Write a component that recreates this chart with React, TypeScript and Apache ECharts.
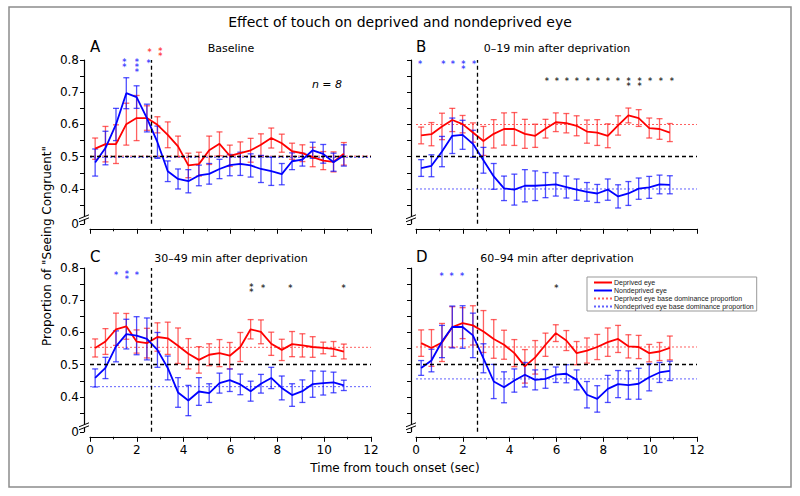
import React, { useEffect, useRef } from "react";
import * as echarts from "echarts";

// ---------- data ----------
const times = [0.22, 0.66, 1.11, 1.55, 1.99, 2.43, 2.88, 3.32, 3.76, 4.2, 4.65, 5.09, 5.53, 5.97, 6.42, 6.86, 7.3, 7.74, 8.19, 8.63, 9.07, 9.51, 9.96, 10.4, 10.84];

const deprivedA = [0.525, 0.539, 0.539, 0.601, 0.62, 0.62, 0.599, 0.568, 0.532, 0.473, 0.477, 0.52, 0.54, 0.503, 0.511, 0.52, 0.537, 0.558, 0.542, 0.517, 0.511, 0.499, 0.488, 0.484, 0.509];
const deprivedErrA = [0.033, 0.055, 0.06, 0.065, 0.07, 0.038, 0.025, 0.04, 0.032, 0.038, 0.037, 0.044, 0.037, 0.033, 0.035, 0.037, 0.034, 0.031, 0.028, 0.025, 0.026, 0.03, 0.028, 0.031, 0.035];
const nondeprivedA = [0.482, 0.527, 0.6, 0.697, 0.685, 0.62, 0.545, 0.455, 0.431, 0.424, 0.442, 0.447, 0.462, 0.474, 0.478, 0.473, 0.462, 0.455, 0.446, 0.486, 0.491, 0.52, 0.509, 0.483, 0.504];
const nondeprivedErrA = [0.042, 0.052, 0.05, 0.048, 0.035, 0.043, 0.05, 0.032, 0.031, 0.036, 0.032, 0.032, 0.03, 0.033, 0.036, 0.036, 0.042, 0.044, 0.033, 0.026, 0.02, 0.025, 0.029, 0.028, 0.033];

const deprivedB = [0.566, 0.57, 0.594, 0.614, 0.601, 0.575, 0.549, 0.571, 0.586, 0.586, 0.571, 0.565, 0.587, 0.607, 0.604, 0.596, 0.578, 0.575, 0.565, 0.597, 0.628, 0.62, 0.589, 0.586, 0.575];
const deprivedErrB = [0.026, 0.036, 0.041, 0.036, 0.027, 0.03, 0.045, 0.044, 0.05, 0.051, 0.045, 0.036, 0.029, 0.029, 0.03, 0.031, 0.036, 0.04, 0.037, 0.03, 0.023, 0.026, 0.031, 0.032, 0.028];
const nondeprivedB = [0.465, 0.472, 0.516, 0.565, 0.568, 0.54, 0.489, 0.439, 0.402, 0.398, 0.41, 0.41, 0.412, 0.414, 0.406, 0.398, 0.391, 0.386, 0.398, 0.377, 0.386, 0.401, 0.405, 0.414, 0.413];
const nondeprivedErrB = [0.026, 0.034, 0.047, 0.055, 0.045, 0.042, 0.04, 0.04, 0.038, 0.048, 0.05, 0.046, 0.039, 0.036, 0.034, 0.033, 0.029, 0.028, 0.033, 0.036, 0.037, 0.033, 0.034, 0.029, 0.028];

const deprivedC = [0.552, 0.572, 0.61, 0.619, 0.572, 0.567, 0.586, 0.582, 0.559, 0.534, 0.515, 0.531, 0.536, 0.528, 0.555, 0.61, 0.602, 0.565, 0.546, 0.564, 0.56, 0.555, 0.552, 0.549, 0.541];
const deprivedErrC = [0.028, 0.04, 0.05, 0.04, 0.036, 0.046, 0.044, 0.05, 0.055, 0.047, 0.041, 0.034, 0.042, 0.041, 0.045, 0.03, 0.037, 0.036, 0.033, 0.039, 0.036, 0.032, 0.018, 0.023, 0.023];
const nondeprivedC = [0.459, 0.49, 0.557, 0.595, 0.59, 0.58, 0.546, 0.49, 0.414, 0.389, 0.417, 0.412, 0.443, 0.452, 0.439, 0.418, 0.441, 0.459, 0.428, 0.406, 0.418, 0.44, 0.443, 0.445, 0.436];
const nondeprivedErrC = [0.028, 0.033, 0.048, 0.046, 0.059, 0.065, 0.054, 0.037, 0.046, 0.047, 0.043, 0.029, 0.031, 0.035, 0.032, 0.031, 0.029, 0.033, 0.037, 0.035, 0.035, 0.041, 0.037, 0.032, 0.016];

const deprivedD = [0.567, 0.552, 0.569, 0.617, 0.629, 0.622, 0.603, 0.58, 0.562, 0.536, 0.495, 0.523, 0.562, 0.598, 0.575, 0.536, 0.544, 0.555, 0.57, 0.58, 0.557, 0.555, 0.536, 0.541, 0.552];
const deprivedErrD = [0.041, 0.057, 0.059, 0.063, 0.048, 0.061, 0.065, 0.06, 0.045, 0.042, 0.052, 0.052, 0.036, 0.026, 0.031, 0.036, 0.039, 0.039, 0.044, 0.042, 0.036, 0.036, 0.027, 0.028, 0.037];
const nondeprivedD = [0.49, 0.513, 0.572, 0.617, 0.617, 0.591, 0.52, 0.448, 0.43, 0.451, 0.469, 0.453, 0.456, 0.469, 0.472, 0.453, 0.407, 0.394, 0.425, 0.44, 0.437, 0.441, 0.461, 0.476, 0.481];
const nondeprivedErrD = [0.023, 0.035, 0.05, 0.065, 0.066, 0.069, 0.045, 0.053, 0.048, 0.036, 0.038, 0.031, 0.029, 0.024, 0.028, 0.031, 0.041, 0.041, 0.042, 0.042, 0.044, 0.048, 0.042, 0.031, 0.03];

const deprivedBase = [0.502, 0.6, 0.554, 0.555];
const nondeprivedBase = [0.498, 0.4, 0.432, 0.456];

const touchEnd = 2.63;
const chance = 0.5;

// significance marks: [time, y of top star, number of stacked stars]
const starsBlueA = [[1.47, 0.797, 2], [2.0, 0.797, 3], [2.5, 0.795, 1]];
const starsRedA = [[2.54, 0.829, 1], [3.0, 0.833, 2]];
const starsBlackA: number[][] = [];
const starsBlueB = [[0.17, 0.793, 1], [1.17, 0.793, 1], [1.57, 0.793, 1], [2.02, 0.793, 2], [2.48, 0.793, 1]];
const starsBlackB = [[5.59, 0.741, 1], [6.01, 0.741, 1], [6.44, 0.741, 1], [6.87, 0.741, 1], [7.34, 0.741, 1], [7.77, 0.741, 1], [8.19, 0.741, 1], [8.62, 0.741, 1], [9.08, 0.741, 2], [9.55, 0.741, 2], [10.0, 0.741, 1], [10.46, 0.741, 1], [10.93, 0.741, 1]];
const starsBlueC = [[1.11, 0.784, 1], [1.57, 0.787, 2], [2.0, 0.784, 1]];
const starsBlackC = [[6.89, 0.745, 2], [7.39, 0.742, 1], [8.56, 0.742, 1], [10.83, 0.742, 1]];
const starsBlueD = [[1.09, 0.781, 1], [1.52, 0.781, 1], [1.97, 0.781, 1]];
const starsBlackD = [[5.99, 0.742, 1]];

const panelLetters = ["A", "B", "C", "D"];
const panelTitles = ["Baseline", "0–19 min after deprivation", "30–49 min after deprivation", "60–94 min after deprivation"];
const yLabelValues = [0.4, 0.5, 0.6, 0.7, 0.8];
const yMinorValues = [0.35, 0.45, 0.55, 0.65, 0.75];

const NAME_DEP = "Deprived eye";
const NAME_NON = "Nondeprived eye";
const NAME_DEP_BASE = "Deprived eye base dominance proportion";
const NAME_NON_BASE = "Nondeprived eye base dominance proportion";

// ---------- layout / style ----------
const FONT = '"DejaVu Sans", sans-serif';
const Y_MIN = 0.292;
const Y_MAX = 0.8;
const GRID_W = 281;
const GRID_H = 163.8;
const gridPos = [[90, 60], [416, 60], [90, 268], [416, 268]];
const yOffsets = [6, 5, 6, 5];
const RED = "#ff0000";
const BLUE = "#0000ff";
const RED_BAR = "rgba(255,30,30,0.7)";
const BLUE_BAR = "rgba(20,20,255,0.75)";
const STAR_LH = 5;

export default function App() {
  const ref = useRef<HTMLDivElement>(null);
  useEffect(() => {
    if (!ref.current) return;
    const chart = echarts.init(ref.current, null, { renderer: "svg" });

    const panelData = [
      { dep: deprivedA, depErr: deprivedErrA, non: nondeprivedA, nonErr: nondeprivedErrA, blue: starsBlueA, red: starsRedA, black: starsBlackA },
      { dep: deprivedB, depErr: deprivedErrB, non: nondeprivedB, nonErr: nondeprivedErrB, blue: starsBlueB, red: [], black: starsBlackB },
      { dep: deprivedC, depErr: deprivedErrC, non: nondeprivedC, nonErr: nondeprivedErrC, blue: starsBlueC, red: [], black: starsBlackC },
      { dep: deprivedD, depErr: deprivedErrD, non: nondeprivedD, nonErr: nondeprivedErrD, blue: starsBlueD, red: [], black: starsBlackD },
    ];

    const errorBars = (i: number, vals: number[], errs: number[], color: string) => ({
      type: "custom",
      xAxisIndex: i,
      yAxisIndex: i,
      silent: true,
      z: 2,
      data: times.map((t, k) => [t, vals[k] - errs[k], vals[k] + errs[k]]),
      encode: { x: 0, y: [1, 2] },
      renderItem: (_p: any, api: any) => {
        const lo = api.coord([api.value(0), api.value(1)]);
        const hi = api.coord([api.value(0), api.value(2)]);
        const w = 3;
        const style = { stroke: color, lineWidth: 1.3, fill: null };
        return {
          type: "group",
          children: [
            { type: "line", shape: { x1: lo[0], y1: lo[1], x2: hi[0], y2: hi[1] }, style },
            { type: "line", shape: { x1: lo[0] - w, y1: lo[1], x2: lo[0] + w, y2: lo[1] }, style },
            { type: "line", shape: { x1: hi[0] - w, y1: hi[1], x2: hi[0] + w, y2: hi[1] }, style },
          ],
        };
      },
    });

    const stars = (i: number, marks: number[][], color: string) => ({
      type: "scatter",
      xAxisIndex: i,
      yAxisIndex: i,
      data: marks.map(([x, y, n]) => ({
        value: [x, y],
        label: {
          formatter: Array(n).fill("*").join("\n"),
          offset: [0, 2 + ((n - 1) * STAR_LH) / 2],
        },
      })),
      symbolSize: 1,
      itemStyle: { color: "rgba(0,0,0,0)" },
      clip: false,
      silent: true,
      z: 6,
      label: { show: true, position: "inside", color, fontSize: 8, lineHeight: STAR_LH, fontWeight: "bold", fontFamily: FONT },
    });

    const series: any[] = [];
    panelData.forEach((p, i) => {
      series.push(errorBars(i, p.dep, p.depErr, RED_BAR));
      series.push(errorBars(i, p.non, p.nonErr, BLUE_BAR));
      series.push({
        type: "line", name: NAME_DEP_BASE, xAxisIndex: i, yAxisIndex: i, symbol: "none", silent: true, z: 1,
        data: [[0, deprivedBase[i]], [12, deprivedBase[i]]],
        lineStyle: { color: "#ff6060", width: 1, type: [2, 2] }, itemStyle: { color: "#ff6060" },
      });
      series.push({
        type: "line", name: NAME_NON_BASE, xAxisIndex: i, yAxisIndex: i, symbol: "none", silent: true, z: 1,
        data: [[0, nondeprivedBase[i]], [12, nondeprivedBase[i]]],
        lineStyle: { color: "#6060ff", width: 1, type: [2, 2] }, itemStyle: { color: "#6060ff" },
      });
      series.push({
        type: "line", name: NAME_DEP, xAxisIndex: i, yAxisIndex: i, symbol: "none", silent: true, z: 3,
        data: times.map((t, k) => [t, p.dep[k]]),
        lineStyle: { color: RED, width: 1.8 }, itemStyle: { color: RED },
        markLine: {
          silent: true, symbol: "none", label: { show: false },
          lineStyle: { color: "#000", type: [4, 3], width: 1.3 },
          data: [{ xAxis: touchEnd }, { yAxis: chance }],
        },
      });
      series.push({
        type: "line", name: NAME_NON, xAxisIndex: i, yAxisIndex: i, symbol: "none", silent: true, z: 4,
        data: times.map((t, k) => [t, p.non[k]]),
        lineStyle: { color: BLUE, width: 1.8 }, itemStyle: { color: BLUE },
      });
      if (p.blue.length) series.push(stars(i, p.blue, "#1010ff"));
      if (p.red.length) series.push(stars(i, p.red, "#ff1010"));
      if (p.black.length) series.push(stars(i, p.black, "#000"));
    });

    const grid = gridPos.map(([l, t]) => ({ left: l, top: t, width: GRID_W, height: GRID_H }));

    const xAxis = gridPos.map((_, i) => ({
      gridIndex: i, type: "value", min: 0, max: 12, interval: 2, offset: 5,
      axisLine: { onZero: false, lineStyle: { color: "#000", width: 1.2 } },
      axisTick: { length: 5, lineStyle: { color: "#000", width: 1 } },
      minorTick: { show: true, splitNumber: 2, length: 2.5, lineStyle: { color: "#000", width: 1 } },
      axisLabel: { show: i >= 2, fontSize: 12, fontFamily: FONT, color: "#000", margin: 7 },
      splitLine: { show: false },
    }));

    const yAxis = gridPos.map((_, i) => ({
      gridIndex: i, type: "value", min: Y_MIN, max: Y_MAX, offset: yOffsets[i],
      axisLine: { show: true, onZero: false, lineStyle: { color: "#000", width: 1.2 } },
      axisTick: { show: true, length: 4, customValues: [Y_MIN, ...yMinorValues, ...yLabelValues], lineStyle: { color: "#000", width: 1 } },
      axisLabel: {
        show: i % 2 === 0, customValues: [Y_MIN, ...yLabelValues], showMinLabel: true,
        formatter: (v: number) => (v < 0.35 ? "0" : v.toFixed(1)),
        fontSize: 12, fontFamily: FONT, color: "#000", margin: 5,
      },
      splitLine: { show: false },
    }));

    const graphic: any[] = [];
    graphic.push({ type: "rect", shape: { x: 9, y: 7, width: 782, height: 480 }, style: { fill: "none", stroke: "#8c8c8c", lineWidth: 1.5 }, z: 0, silent: true });
    graphic.push({ type: "text", x: 400, y: 22, style: { text: "Effect of touch on deprived and nondeprived eye", fontSize: 14, fontFamily: FONT, fill: "#000", align: "center", verticalAlign: "middle" } });
    gridPos.forEach(([l, t], i) => {
      const cy = i < 2 ? 47 : 257;
      graphic.push({ type: "text", x: l, y: cy, style: { text: panelLetters[i], fontSize: 15, fontFamily: FONT, fill: "#000", align: "left", verticalAlign: "middle" } });
      graphic.push({ type: "text", x: l + 141, y: cy + 1, style: { text: panelTitles[i], fontSize: 11, fontFamily: FONT, fill: "#000", align: "center", verticalAlign: "middle" } });
      // axis break marks
      const ax = l - yOffsets[i];
      const by = t + GRID_H - 7;
      graphic.push({ type: "polygon", shape: { points: [[ax - 4, by + 1.5], [ax + 4, by - 1.5], [ax + 4, by + 1.5], [ax - 4, by + 4.5]] }, style: { fill: "#fff" }, z: 50, silent: true });
      graphic.push({ type: "line", shape: { x1: ax - 5, y1: by + 2, x2: ax + 5, y2: by - 2 }, style: { stroke: "#000", lineWidth: 1 }, z: 51, silent: true });
      graphic.push({ type: "line", shape: { x1: ax - 5, y1: by + 5, x2: ax + 5, y2: by + 1 }, style: { stroke: "#000", lineWidth: 1 }, z: 51, silent: true });
    });
    graphic.push({ type: "text", x: 327, y: 84, style: { text: "n = 8", fontSize: 11, fontStyle: "italic", fontFamily: FONT, fill: "#000", align: "center", verticalAlign: "middle" } });
    graphic.push({ type: "text", x: 47, y: 246, rotation: Math.PI / 2, style: { text: 'Proportion of "Seeing Congruent"', fontSize: 12, fontFamily: FONT, fill: "#000", align: "center", verticalAlign: "middle" } });
    graphic.push({ type: "text", x: 395, y: 468, style: { text: "Time from touch onset (sec)", fontSize: 12, fontFamily: FONT, fill: "#000", align: "center", verticalAlign: "middle" } });

    chart.setOption({
      animation: false,
      backgroundColor: "#fff",
      grid,
      xAxis,
      yAxis,
      legend: {
        data: [NAME_DEP, NAME_NON, NAME_DEP_BASE, NAME_NON_BASE],
        orient: "vertical", left: 587, top: 277,
        itemWidth: 18, itemHeight: 7, itemGap: 1,
        padding: [2, 3, 1, 6],
        borderColor: "#999", borderWidth: 1, backgroundColor: "#fff",
        selectedMode: false,
        itemStyle: { color: "rgba(0,0,0,0)", borderWidth: 0, opacity: 0 },
        textStyle: { fontSize: 7, fontFamily: '"Liberation Sans", Arial, sans-serif', color: "#222", padding: [0, 0, 0, -3] },
      },
      graphic,
      series,
    });
    return () => chart.dispose();
  }, []);
  return <div ref={ref} style={{ position: "absolute", left: 0, top: 0, width: 800, height: 496, background: "#fff" }} />;
}
